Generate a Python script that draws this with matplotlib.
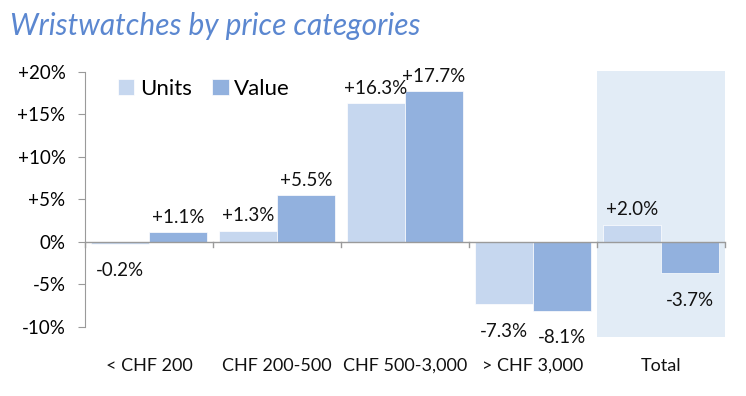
import matplotlib
matplotlib.use("Agg")
import matplotlib.pyplot as plt
from matplotlib.patches import Rectangle
import numpy as np

categories = ["< CHF 200", "CHF 200-500", "CHF 500-3,000", "> CHF 3,000", "Total"]
units = [-0.2, 1.3, 16.3, -7.3, 2.0]
value = [1.1, 5.5, 17.7, -8.1, -3.7]
yticks = [-10, -5, 0, 5, 10, 15, 20]
ytick_labels = ["-10%", "-5%", "0%", "+5%", "+10%", "+15%", "+20%"]

plt.rcParams['font.family'] = ['Lato', 'DejaVu Sans']

W, H = 746, 396
fig = plt.figure(figsize=(W/100, H/100), dpi=100)
ax = fig.add_axes([85/W, 1-337/H, 640/W, 266/H])
ax.set_xlim(-0.5, 4.5)
ax.set_ylim(-11.2, 20.1)

c_units = "#c6d7ef"
c_value = "#92b1de"
x = np.arange(len(categories))
w = 0.455
ax.add_patch(Rectangle((3.5, -11.2), 1.0, 31.3, facecolor="#e2ecf6", edgecolor="none", zorder=0))
ax.bar(x - w/2, units, w, color=c_units, zorder=2, label="Units", edgecolor="white", linewidth=0.5)
ax.bar(x + w/2, value, w, color=c_value, zorder=2, label="Value", edgecolor="white", linewidth=0.5)

def fmt(v):
    return ("+%.1f%%" % v) if v > 0 else ("%.1f%%" % v)

for xi, vals in [(x - w/2, units), (x + w/2, value)]:
    for xx, v in zip(xi, vals):
        if v >= 0:
            ax.text(xx, v + 1.75, fmt(v), ha="center", va="center", fontsize=13.5, color="#111111")
        else:
            ax.text(xx, v - 3.2, fmt(v), ha="center", va="center", fontsize=13.5, color="#111111")

# zero line with category ticks
ax.axhline(0, color="#9a9a9a", lw=1, zorder=3)
for b in np.arange(-0.5, 4.6, 1.0):
    ax.plot([b, b], [0, -0.6], color="#9a9a9a", lw=1, zorder=3, clip_on=False)

for s in ["top", "right", "bottom"]:
    ax.spines[s].set_visible(False)
ax.spines["left"].set_bounds(-10, 20)
ax.spines["left"].set_color("#9a9a9a")
ax.set_yticks(yticks)
ax.set_yticklabels(ytick_labels, fontsize=13.5)
ax.tick_params(axis="y", direction="out", length=5, color="#9a9a9a", pad=9)
ax.set_xticks([])
for xi, c in zip(x, categories):
    ax.text(xi, -14.6, c, ha="center", va="center", fontsize=13, color="#111111")

ax.legend(loc="upper left", bbox_to_anchor=(0.02, 1.045), ncol=2, frameon=False,
          fontsize=16, handlelength=0.75, handleheight=0.75, handletextpad=0.25, columnspacing=0.9)

fig.text(10/W, 1-26/H, "Wristwatches by price categories", fontsize=21.5, style="italic",
         color="#5b87d0", ha="left", va="center")

fig.savefig("out.png", dpi=100)
